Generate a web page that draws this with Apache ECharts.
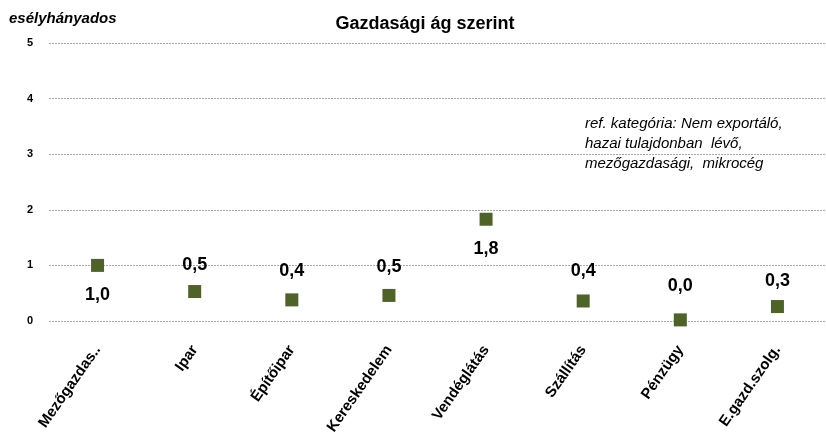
<!DOCTYPE html>
<html>
<head>
<meta charset="utf-8">
<script src="https://cdn.jsdelivr.net/npm/echarts@6/dist/echarts.min.js"></script>
<style>
  html, body { margin: 0; padding: 0; background: #ffffff; }
  #chart { width: 826px; height: 438px; }
</style>
</head>
<body>
<div id="chart"></div>
<script>
// Sectors (categories on the x axis)
const categories = ['Mezőgazdas..', 'Ipar', 'Építőipar', 'Kereskedelem', 'Vendéglátás', 'Szállítás', 'Pénzügy', 'E.gazd.szolg.'];
// Odds ratios per sector
const oddsRatios = [1.0, 0.53, 0.38, 0.46, 1.83, 0.36, 0.02, 0.26];
// Y axis ticks
const yTicks = [0, 1, 2, 3, 4, 5];

const titleText = 'Gazdasági ág szerint';
const yAxisName = 'esélyhányados';
const noteLines = ['ref. kategória: Nem exportáló,', 'hazai tulajdonban  lévő,', 'mezőgazdasági,  mikrocég'];

// Where each value label sits relative to its marker
const labelSide = ['bottom', 'top', 'top', 'top', 'bottom', 'top', 'top', 'top'];
const labelGap = [14, 11, 13, 13, 14, 14, 18, 10];

const fmt = v => v.toFixed(1).replace('.', ',');

const chart = echarts.init(document.getElementById('chart'), null, { renderer: 'canvas' });

const seriesData = oddsRatios.map((v, i) => ({
  value: v,
  label: { position: labelSide[i], distance: labelGap[i] }
}));

chart.setOption({
  animation: false,
  backgroundColor: '#ffffff',
  textStyle: { fontFamily: 'Liberation Sans, Arial, sans-serif' },
  title: {
    text: titleText,
    left: 420,
    top: 10,
    textAlign: 'center',
    textStyle: { fontSize: 18, fontWeight: 'bold', color: '#000' }
  },
  graphic: [
    {
      type: 'text',
      left: 9,
      top: 11,
      style: {
        text: yAxisName,
        font: 'italic bold 15px "Liberation Sans", Arial, sans-serif',
        fill: '#000'
      }
    },
    {
      type: 'text',
      left: 585,
      top: 114,
      style: {
        text: noteLines.join('\n'),
        font: 'italic 15px "Liberation Sans", Arial, sans-serif',
        lineHeight: 20,
        fill: '#000'
      }
    }
  ],
  grid: { left: 49, top: 43, width: 781, height: 278, containLabel: false },
  xAxis: {
    type: 'category',
    data: categories,
    boundaryGap: true,
    axisLine: { show: false },
    axisTick: { show: false },
    splitLine: { show: false },
    axisLabel: {
      rotate: 55,
      margin: 26,
      interval: 0,
      fontSize: 15,
      fontWeight: 'bold',
      color: '#000'
    }
  },
  yAxis: {
    type: 'value',
    min: yTicks[0],
    max: yTicks[yTicks.length - 1],
    interval: 1,
    axisLine: { show: false },
    axisTick: { show: false },
    axisLabel: {
      margin: 16,
      fontSize: 11,
      fontWeight: 'bold',
      color: '#000'
    },
    splitLine: {
      show: true,
      lineStyle: { type: [2, 1], color: '#a6a6a6', width: 1 }
    }
  },
  series: [{
    type: 'scatter',
    data: seriesData,
    symbol: 'rect',
    symbolSize: 13,
    itemStyle: { color: '#4f6228', opacity: 1 },
    label: {
      show: true,
      formatter: p => fmt(p.value),
      fontSize: 18,
      fontWeight: 'bold',
      color: '#000'
    }
  }]
});
</script>
</body>
</html>
